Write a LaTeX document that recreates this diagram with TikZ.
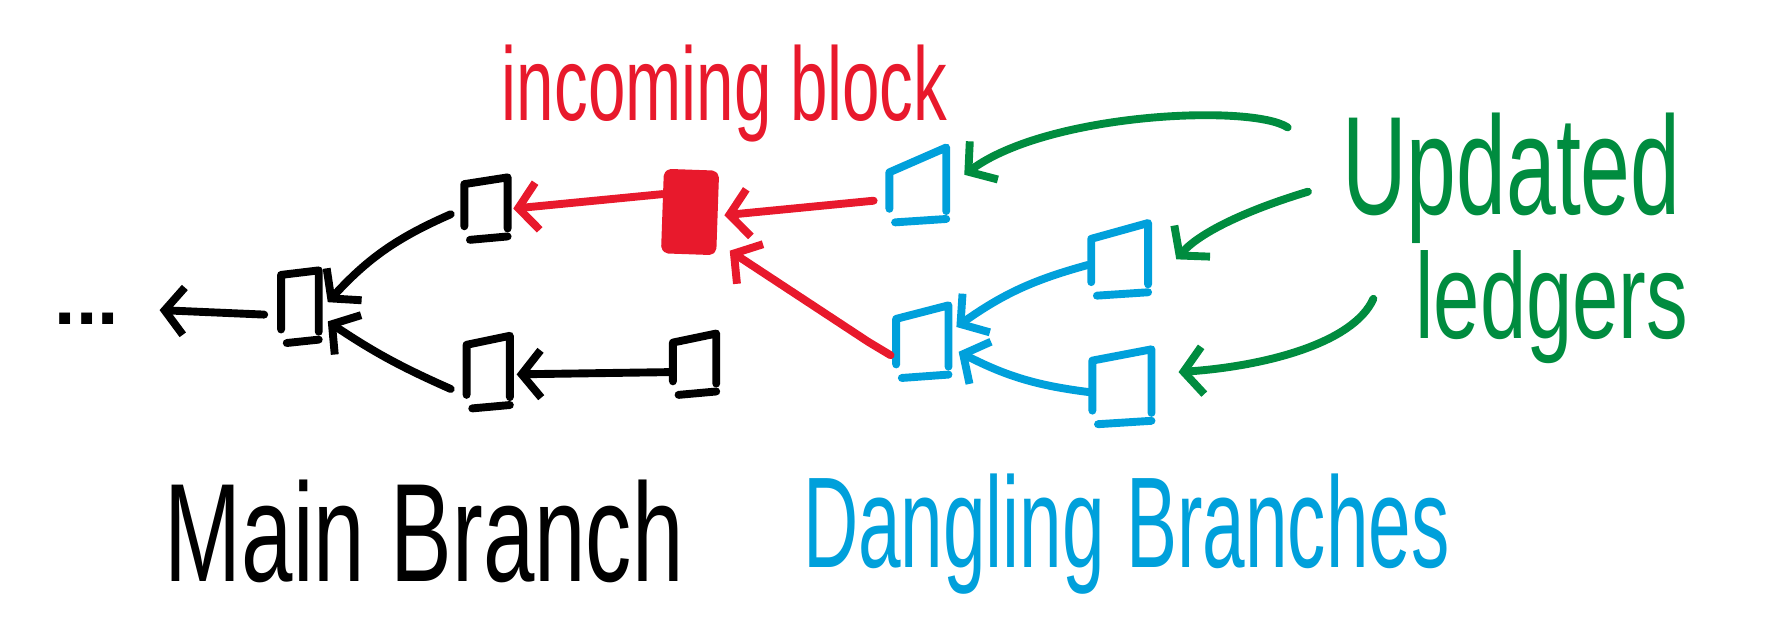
\documentclass[tikz,border=0pt]{standalone}
\usepackage{fontspec}
\setmainfont{Liberation Sans}
\usetikzlibrary{arrows.meta,calc}
\definecolor{inkred}{HTML}{E8192C}
\definecolor{inkblue}{HTML}{00A0DB}
\definecolor{inkgreen}{HTML}{008C3F}
\newcommand\sketchbox[3]{%
  \draw[ink,#2] ([yshift=12pt]#1.south west) -- ([yshift=-#3]#1.north west) -- (#1.north east) -- ([yshift=10pt]#1.south east);
  \draw[ink,#2] ([xshift=5pt]#1.south west) -- ([yshift=3pt]#1.south east);
}
\begin{document}
\begin{tikzpicture}[x=1pt,y=-1pt,line cap=round,line join=round,
  ink/.style={line width=7pt},
  arr/.style={ink,-{Straight Barb[length=17pt,width=42pt]}},
  blk/.style 2 args={minimum width=#1,minimum height=#2,inner sep=0pt},
  lbl/.style={anchor=base west,inner sep=0pt}]
\useasboundingbox (0,0) rectangle (1568,568);

% blocks
\node[blk={33pt}{64pt}] (m1) at (266,272) {};
\node[blk={38pt}{55pt}] (m2) at (431,185) {};
\node[blk={38pt}{64pt}] (m3) at (433,330) {};
\node[blk={38pt}{54pt}] (m4) at (616,323) {};
\node[blk={44pt}{70pt},fill=inkred,draw=inkred,line width=5pt,rounded corners=4pt,rotate=-2] (inc) at (612,188) {};
\node[blk={50pt}{66pt}] (b1) at (814,164) {};
\node[blk={50pt}{64pt}] (b2) at (993,230) {};
\node[blk={46pt}{64pt}] (b3) at (818,303) {};
\node[blk={52pt}{66pt}] (b4) at (995,343) {};
\node[inner sep=0pt,font=\bfseries\fontsize{68}{68}\selectfont] (dots) at (77,283) {...};

\sketchbox{m1}{black}{4pt}
\sketchbox{m2}{black}{6pt}
\sketchbox{m3}{black}{8pt}
\sketchbox{m4}{black}{8pt}
\sketchbox{b1}{inkblue}{22pt}
\sketchbox{b2}{inkblue}{14pt}
\sketchbox{b3}{inkblue}{12pt}
\sketchbox{b4}{inkblue}{10pt}

% main branch arrows
\draw[arr] ($(m1.west)+(-15,7)$) -- ($(dots.east)+(36,-8)$);
\draw[arr] ($(m2.west)+(-12,5)$) to[bend right=12] ($(m1.east)+(8,-4)$);
\draw[arr] ($(m3.west)+(-14,15)$) to[bend left=5] ($(m1.east)+(8,13)$);
\draw[arr] ($(m4.west)+(-2,7)$) -- ($(m3.east)+(6,2)$);

% red arrows
\draw[arr,inkred] ($(inc.west)+(0,-15)$) -- ($(m2.east)+(5,0)$);
\draw[arr,inkred] ($(b1.west)+(-14,14)$) -- ($(inc.east)+(6,2)$);
\draw[arr,inkred] ($(b3.west)+(-5,12)$) -- ($(b3.west)+(-25,0)$) -- ($(inc.south east)+(12,-4)$);

% blue arrows
\draw[arr,inkblue] ($(b2.west)+(-3,5)$) to[bend right=10] ($(b3.east)+(7,-13)$);
\draw[arr,inkblue] ($(b4.west)+(-1,5)$) to[bend left=10] ($(b3.east)+(9,9)$);

% green arrows
\coordinate (g1) at (1142,113);
\coordinate (g2) at (1160,170);
\coordinate (g3) at (1218,265);
\draw[arr,inkgreen] (g1) .. controls (1110,92) and (930,100) .. ($(b1.east)+(16,-9)$);
\draw[arr,inkgreen] (g2) .. controls (1110,185) and (1065,205) .. ($(b2.east)+(25,0)$);
\draw[arr,inkgreen] (g3) .. controls (1200,305) and (1120,325) .. ($(b4.east)+(24,-13)$);

% labels
\node[lbl,text=inkred] (inctext) at (445,107) {\resizebox{395pt}{67pt}{incoming block}};
\node[lbl,text=inkgreen] (upd) at (1190,190) {\resizebox{300pt}{90pt}{Updated}};
\node[lbl,text=inkgreen] (led) at (1255,300) {\resizebox{242pt}{78pt}{ledgers}};
\node[lbl,text=black] (mainb) at (146,516) {\resizebox{460pt}{90pt}{Main Branch}};
\node[lbl,text=inkblue] (dang) at (712,503) {\resizebox{573pt}{83pt}{Dangling Branches}};
\end{tikzpicture}
\end{document}
